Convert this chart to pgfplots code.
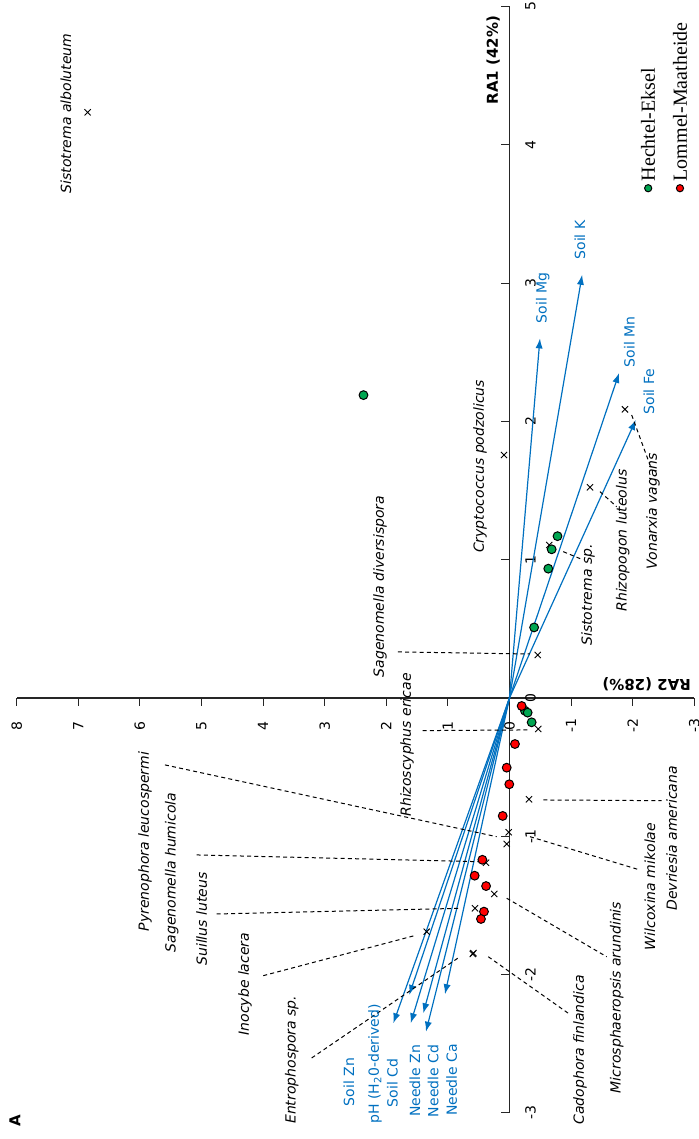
\documentclass[border=0pt]{standalone}
\usepackage{fontspec}
\setmainfont{DejaVu Sans}
\newfontfamily\legfont{Liberation Serif}
\usepackage{pgfplots}
\pgfplotsset{compat=1.18}
\usetikzlibrary{arrows.meta}

\definecolor{vecblue}{RGB}{0,112,192}
\definecolor{hegreen}{RGB}{0,166,81}
\definecolor{lmred}{RGB}{255,0,0}
\newcommand{\sz}{\fontsize{7}{8.4}\selectfont}
\tikzset{
  sp/.style={rotate=90, font=\sz\itshape},
  vn/.style={rotate=90, font=\sz, text=vecblue},
  leg/.style={rotate=90, anchor=base west, inner sep=0pt, font=\legfont\fontsize{10}{12}\selectfont},
  legkey/.style={circle, draw=black, line width=0.5pt, fill=#1, inner sep=0pt, minimum size=3.6pt},
}
\pgfplotsset{
  vec/.style={vecblue, line width=0.6pt, -{Latex[length=5pt,width=3.6pt]}, forget plot},
  lead/.style={black, line width=0.5pt, dash pattern=on 2pt off 1.6pt, forget plot},
}

% sample scores (RA2, RA1)
\pgfplotstableread{
x y
2.37 2.19
-0.78 1.17
-0.685 1.075
-0.63 0.935
-0.40 0.51
-0.25 -0.092
-0.295 -0.106
-0.36 -0.176
}\hechtel
\pgfplotstableread{
x y
-0.198 -0.058
-0.089 -0.333
0.045 -0.504
0.003 -0.624
0.11 -0.853
0.44 -1.17
0.565 -1.285
0.38 -1.36
0.414 -1.545
0.463 -1.598
}\lommel
% species scores
\pgfplotstableread{
x y
6.848 4.235
0.089 1.757
-0.458 0.311
-0.468 -0.224
-0.646 1.106
-1.307 1.523
-1.875 2.087
-0.317 -0.733
0.013 -0.971
0.045 -1.056
0.381 -1.191
0.56 -1.521
1.344 -1.69
0.597 -1.851
0.585 -1.845
0.247 -1.417
}\species

\begin{document}
\begin{tikzpicture}
\begin{axis}[
  scale only axis, width=338.8pt, height=553.2pt,
  xmin=-3, xmax=8, ymin=-3, ymax=5, x dir=reverse,
  axis lines=middle, axis line style={-, line width=0.6pt, black!85},
  clip=false,
  xtick={-3,...,8}, ytick={-3,...,5},
  hide obscured x ticks=false, hide obscured y ticks=false,
  tick style={black!85, line width=0.5pt},
  major tick length=4pt,
  xtick align=outside, ytick align=inside,
  /pgf/number format/assume math mode=true,
  xticklabel style={font=\sz, yshift=-10pt, rotate=90, anchor=center},
  yticklabel style={font=\sz, xshift=10.5pt, rotate=90, anchor=center},
]
% environmental vectors
\addplot[vec] coordinates {(0,0) (-0.495,2.60)};
\addplot[vec] coordinates {(0,0) (-1.18,3.06)};
\addplot[vec] coordinates {(0,0) (-1.78,2.35)};
\addplot[vec] coordinates {(0,0) (-2.05,2.01)};
\addplot[vec] coordinates {(0,0) (1.886,-2.352)};
\addplot[vec] coordinates {(0,0) (1.627,-2.147)};
\addplot[vec] coordinates {(0,0) (1.604,-2.352)};
\addplot[vec] coordinates {(0,0) (1.40,-2.28)};
\addplot[vec] coordinates {(0,0) (1.356,-2.413)};
\addplot[vec] coordinates {(0,0) (1.047,-2.142)};

% leader lines from species to their names
\addplot[lead] coordinates {(1.81,0.333) (-0.333,0.318)};
\addplot[lead] coordinates {(1.409,-0.236) (-0.333,-0.231)};
\addplot[lead] coordinates {(-0.873,1.058) (-1.198,0.998)};
\addplot[lead] coordinates {(-1.469,1.492) (-1.74,1.383)};
\addplot[lead] coordinates {(-1.984,2.046) (-2.281,1.685)};
\addplot[lead] coordinates {(-0.549,-0.7375) (-2.471,-0.7426)};
\addplot[lead] coordinates {(-0.333,-1.003) (-2.119,-1.244)};
\addplot[lead] coordinates {(5.593,-0.484) (0.208,-1.003)};
\addplot[lead] coordinates {(5.078,-1.135) (0.479,-1.184)};
\addplot[lead] coordinates {(4.753,-1.562) (0.804,-1.521)};
\addplot[lead] coordinates {(3.997,-2.008) (1.562,-1.721)};
\addplot[lead] coordinates {(3.211,-2.603) (0.804,-1.871)};
\addplot[lead] coordinates {(0.045,-1.448) (-1.578,-1.871)};
\addplot[lead] coordinates {(0.344,-1.871) (-0.955,-2.28)};

% species
\addplot[only marks, mark=x, mark size=2.2pt, black, line width=0.45pt, forget plot] table {\species};

% samples
\addplot[only marks, mark=*, mark size=2.2pt, draw=black, fill=hegreen, line width=0.5pt] table {\hechtel};
\addplot[only marks, mark=*, mark size=2.2pt, draw=black, fill=lmred, line width=0.5pt] table {\lommel};

% key for the two sites
\node[legkey=hegreen] at (axis cs:-2.252,3.686) {};
\node[legkey=lmred] at (axis cs:-2.768,3.686) {};
\node[leg] at (axis cs:-2.362,3.733) {Hechtel-Eksel};
\node[leg] at (axis cs:-2.881,3.733) {Lommel-Maatheide};

% vector names
\node[vn] at (axis cs:-0.539,2.892) {Soil Mg};
\node[vn] at (axis cs:-1.144,3.312) {Soil K};
\node[vn] at (axis cs:-1.945,2.576) {Soil Mn};
\node[vn] at (axis cs:-2.265,2.215) {Soil Fe};
\node[vn] at (axis cs:2.606,-2.777) {Soil Zn};
\node[vn] at (axis cs:2.183,-2.646) {pH (H\textsubscript{2}0-derived)};
\node[vn] at (axis cs:1.899,-2.784) {Soil Cd};
\node[vn] at (axis cs:1.534,-2.769) {Needle Zn};
\node[vn] at (axis cs:1.237,-2.769) {Needle Cd};
\node[vn] at (axis cs:0.938,-2.762) {Needle Ca};

% species names
\node[sp] at (axis cs:7.20,4.226) {Sistotrema alboluteum};
\node[sp] at (axis cs:0.479,1.674) {Cryptococcus podzolicus};
\node[sp] at (axis cs:2.102,0.806) {Sagenomella diversispora};
\node[sp] at (axis cs:1.664,-0.34) {Rhizoscyphus ericae};
\node[sp] at (axis cs:-1.274,0.745) {Sistotrema sp.};
\node[sp] at (axis cs:-1.838,1.139) {Rhizopogon luteolus};
\node[sp] at (axis cs:-2.33,1.352) {Vonarxia vagans};
\node[sp] at (axis cs:-2.633,-1.015) {Devriesia americana};
\node[sp] at (axis cs:-2.28,-1.363) {Wilcoxina mikolae};
\node[sp] at (axis cs:5.917,-1.038) {Pyrenophora leucospermi};
\node[sp] at (axis cs:5.484,-1.262) {Sagenomella humicola};
\node[sp] at (axis cs:4.997,-1.599) {Suillus luteus};
\node[sp] at (axis cs:4.294,-2.069) {Inocybe lacera};
\node[sp] at (axis cs:3.536,-2.616) {Entrophospora sp.};
\node[sp] at (axis cs:-1.74,-2.166) {Microsphaeropsis arundinis};
\node[sp] at (axis cs:-1.144,-2.545) {Cadophora finlandica};

% axis titles and panel letter
\node[rotate=90, font=\fontsize{7.5}{9}\selectfont\bfseries] at (axis cs:0.263,4.613) {RA1 (42\%)};
\node[rotate=180, font=\fontsize{7.5}{9}\selectfont\bfseries] at (axis cs:-2.227,0.101) {RA2 (28\%)};
\node[rotate=90, font=\fontsize{7.5}{9}\selectfont\bfseries] at (axis cs:8.028,-3.059) {A};

\coordinate (bbA) at (axis cs:8.271,-3.189);
\coordinate (bbB) at (axis cs:-3.076,5.047);
\end{axis}
\pgfresetboundingbox
\useasboundingbox (bbA) rectangle (bbB);
\end{tikzpicture}
\end{document}
